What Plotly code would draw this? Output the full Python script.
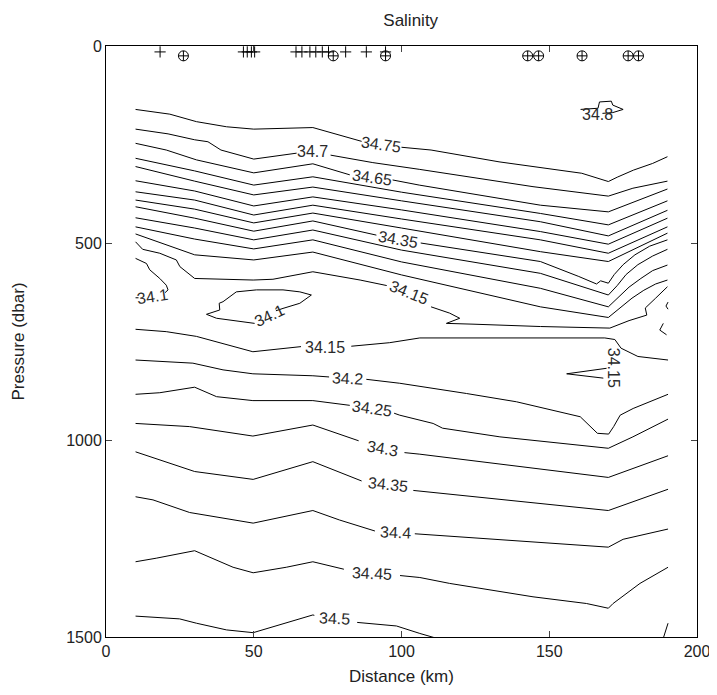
import plotly.graph_objects as go

# ---------------- station markers (top) ----------------
plus_d = [18.3, 46.5, 47.8, 49.2, 50.3, 64.3, 66.3, 69.0, 71.0, 73.2, 75.3, 81.1, 88.1, 94.6]
plus_p = [15] * len(plus_d)
circ_d = [26.2, 76.9, 94.6, 142.7, 146.4, 161.1, 176.7, 180.2]
circ_p = [25] * len(circ_d)

# ---------------- contour lines (distance km, pressure dbar); None = label gap ----------------
s3480_d = [160.6, 166.5, 167.0, 171.0, 171.5, 175.0, 171.5, 168.0]
s3480_p = [161, 158, 142, 140, 150, 161, 169, 171]

s3475_d = [10, 21.6, 30.6, 40.8, 50, 70, 86.5, None, 100, 110, 133, 161, 170, 173, 178.5, 185, 190]
s3475_p = [161, 173, 192, 205, 211, 207, 242, None, 257, 264, 294, 323, 344, 333, 315, 298, 281]

s3470_d = [10, 21, 30, 34.5, 38.9, 50, 64.5, None, 76, 90.3, 106, 122, 144.5, 170, 178.3, 190]
s3470_p = [211, 223, 238, 243, 264, 287, 272, None, 277, 296, 313, 332, 357, 381, 361, 343]

s3465_d = [10, 20.4, 30.6, 50, 70, 82.5, None, 97, 106, 147, 170, 190]
s3465_p = [247, 264, 289, 322, 299, 327, None, 340, 353, 404, 421, 363]

s3460_d = [10, 30, 50, 70, 100, 147, 170, 190]
s3460_p = [285, 317, 353, 332, 371, 425, 454, 393]

s3455_d = [10, 30, 50, 70, 100, 147, 170, 190]
s3455_p = [306, 343, 378, 358, 393, 446, 482, 417]

s3450_d = [10, 30, 50, 70, 100, 147, 170, 190]
s3450_p = [342, 368, 406, 383, 416, 471, 503, 437]

s3445_d = [10, 30, 50, 70, 100, 147, 170, 190]
s3445_p = [370, 391, 429, 404, 439, 492, 526, 459]

s3440_d = [10, 30, 50, 70, 100, 147, 170, 190]
s3440_p = [391, 414, 449, 424, 462, 522, 547, 475]

s3435_d = [10, 30, 50, 70, 91.5, None, 106.5, 147, 160, 166, 167.4, 170, 172, 175, 179, 184, 190]
s3435_p = [408, 437, 470, 444, 480, None, 500, 547, 585, 604, 596, 602, 580, 555, 530, 508, 492]

s3430_d = [10, 30, 50, 70, 100, 147, 170, 173, 176, 180, 185, 190]
s3430_p = [436, 462, 492, 467, 518, 577, 632, 608, 580, 555, 533, 516]

s3425_d = [10, 30, 50, 70, 100, 147, 170, 173, 177, 181, 185, 190]
s3425_p = [459, 490, 515, 492, 548, 615, 662, 640, 612, 590, 570, 556]

s3420_d = [10, 30, 50, 70, 100, 147, 170, 174, 178, 182, 186, 190]
s3420_p = [477, 530, 543, 523, 581, 662, 689, 665, 640, 620, 604, 594]

s3415_d = [10, 12.4, 18.2, 23.8, 25, 30, 49.8, 56.5, 70, 86, 95, None, 110, 116.3, 119.7,
           115.2, 124.2, 147, 170.5, 177, 183, 182.5, 186, 190]
s3415_p = [497, 516, 526, 543, 560, 590, 594, 592, 573, 594, 608, None, 662, 678, 691,
           704, 706, 712, 716, 697, 683, 665, 640, 611]

s3410a_d = [10, 13.7, 14.8, 18.2, 20.4, 21.0, 20.0, None, 11.0, 10]
s3410a_p = [539, 552, 568, 590, 607, 619, 626, None, 639, 639]
s3410b_d = [59.9, 65.6, 69.5, 65.6, 59.9, 57.5, None, 50.3, 37.4, 34.0, 38.5, 38.3, 39.6, 44.1, 50.9, 59.9]
s3410b_p = [619, 624, 632, 653, 666, 672, None, 704, 691, 681, 670, 653, 649, 624, 619, 619]
s3410c_d = [190.2, 189.5, 190.2]
s3410c_p = [650, 660, 668]
s3410e_d = [188.6, 187.4, 189.7]
s3410e_p = [704, 721, 733]

d3415_d = [10, 20.4, 30.6, 49.7, 66, None, 83, 96, 106.2, 168.8, 172.2, 174.3, 180, 190.2]
d3415_p = [719, 725, 737, 776, 763, None, 762, 753, 741, 741, 745, 767, 788, 797]
d3415s_d = [155.9, 169.4, None, 168.3, 155.9]
d3415s_p = [832, 818, None, 843, 832]

d3420_d = [10, 29.4, 39.6, 49.7, 70, 75.5, None, 88.1, 99.4, 122, 138.9, 160.5, 164, 166.3, 170.1,
           171.8, 174, 178.4, 190.2]
d3420_p = [797, 805, 822, 832, 837, 840, None, 846, 856, 882, 903, 941, 966, 983, 985,
           966, 937, 920, 884]

d3425_d = [10, 18.2, 30, 37.4, 49.7, 70, 82.5, None, 97.5, 99.4, 110.7, 113.9, 133.3, 170, 178.3, 190.2]
d3425_p = [884, 880, 866, 890, 900, 900, 912, None, 932, 937, 958, 970, 992, 1021, 992, 947]

d3430_d = [10, 28.3, 49.7, 70, 85.5, None, 101, 106.2, 170, 190.2]
d3430_p = [958, 966, 990, 962, 1002, None, 1032, 1036, 1095, 1040]

d3435_d = [10, 30, 49.8, 70, 86.5, None, 104, 170, 190.2]
d3435_p = [1030, 1080, 1100, 1055, 1104, None, 1128, 1179, 1125]

d3440_d = [10, 15.9, 28.3, 49.8, 70, 79, 91, None, 104.5, 170, 175, 190.2]
d3440_p = [1144, 1152, 1184, 1211, 1179, 1203, 1231, None, 1238, 1272, 1252, 1226]

d3445_d = [10, 17, 30, 43, 49.8, 61, 70, 80.5, None, 99.5, 106.2, 116.3, 144.5, 162.6, 170, 171.6,
           180.7, 190.2]
d3445_p = [1309, 1300, 1281, 1323, 1337, 1323, 1309, 1328, None, 1344, 1349, 1364, 1398, 1415, 1427,
           1415, 1364, 1323]

d3450_d = [10, 24.9, 30.6, 40.8, 49.8, 70, 70.5, None, 85, 98.3, 106.2, 110, 115]
d3450_p = [1447, 1454, 1465, 1482, 1489, 1444, 1445, None, 1463, 1472, 1491, 1500, 1510]
d3450b_d = [188.6, 190.2]
d3450b_p = [1503, 1465]

lines = [
    (s3480_d, s3480_p), (s3475_d, s3475_p), (s3470_d, s3470_p), (s3465_d, s3465_p),
    (s3460_d, s3460_p), (s3455_d, s3455_p), (s3450_d, s3450_p), (s3445_d, s3445_p),
    (s3440_d, s3440_p), (s3435_d, s3435_p), (s3430_d, s3430_p), (s3425_d, s3425_p),
    (s3420_d, s3420_p), (s3415_d, s3415_p), (s3410a_d, s3410a_p), (s3410b_d, s3410b_p),
    (s3410c_d, s3410c_p), (s3410e_d, s3410e_p), (d3415_d, d3415_p), (d3415s_d, d3415s_p),
    (d3420_d, d3420_p), (d3425_d, d3425_p), (d3430_d, d3430_p), (d3435_d, d3435_p),
    (d3440_d, d3440_p), (d3445_d, d3445_p), (d3450_d, d3450_p), (d3450b_d, d3450b_p),
]

# contour labels: text, distance, pressure, angle
label_text = ["34.8", "34.75", "34.7", "34.65", "34.35", "34.15", "34.1", "34.1",
              "34.15", "34.15", "34.2", "34.25", "34.3", "34.35", "34.4", "34.45", "34.5"]
label_d = [166.2, 93.0, 70.0, 90.0, 98.8, 102.5, 15.8, 55.4,
           74.0, 171.6, 81.8, 90.0, 93.5, 95.4, 98.0, 90.0, 77.4]
label_p = [175, 251, 269, 335, 492, 625, 637, 685,
           764, 817, 843, 919, 1022, 1113, 1236, 1338, 1454]
label_ang = [0, 8, 0, 8, 10, 22, -8, -25,
             0, 90, 3, 8, 10, 6, 3, 3, 3]

FONT = "Liberation Sans, Arial, Helvetica, sans-serif"

fig = go.Figure()
for d, p in lines:
    fig.add_trace(go.Scatter(x=d, y=p, mode="lines", line=dict(color="black", width=1),
                             connectgaps=False, hoverinfo="skip", showlegend=False))

fig.add_trace(go.Scatter(x=plus_d, y=plus_p, mode="markers", showlegend=False,
                         marker=dict(symbol="cross-thin-open", size=8,
                                     line=dict(color="black", width=1), color="black")))
fig.add_trace(go.Scatter(x=circ_d, y=circ_p, mode="markers", showlegend=False,
                         marker=dict(symbol="circle-cross-open", size=10,
                                     line=dict(color="black", width=1), color="black")))

for t, d, p, a in zip(label_text, label_d, label_p, label_ang):
    fig.add_annotation(x=d, y=p, text=t, showarrow=False, textangle=a,
                       font=dict(family=FONT, size=16, color="#2a2a2a"))

tick_font = dict(family=FONT, size=16, color="#222222")
title_font = dict(family=FONT, size=17, color="#222222")
# page body has an 8 px default margin, so the figure is 8 px smaller than the window
fig.update_layout(
    width=709, height=687,
    margin=dict(l=98, r=20, t=38, b=58, autoexpand=False),
    paper_bgcolor="white", plot_bgcolor="white",
    title=dict(text="Salinity", x=0.568, xanchor="center", y=0.982, yanchor="middle",
               font=title_font),
    xaxis=dict(range=[0, 200], tickvals=[0, 50, 100, 150, 200], ticks="inside", ticklen=6,
               showline=True, linecolor="black", linewidth=1, mirror="ticks", automargin=False,
               showgrid=False, zeroline=False, tickfont=tick_font,
               title=dict(text="Distance (km)", font=title_font, standoff=10)),
    yaxis=dict(range=[1500, 0], tickvals=[0, 500, 1000, 1500], ticks="inside", ticklen=6,
               showline=True, linecolor="black", linewidth=1, mirror="ticks", automargin=False,
               showgrid=False, zeroline=False, tickfont=tick_font,
               title=dict(text="Pressure (dbar)", font=title_font, standoff=37)),
)
fig.write_html("out.html")
